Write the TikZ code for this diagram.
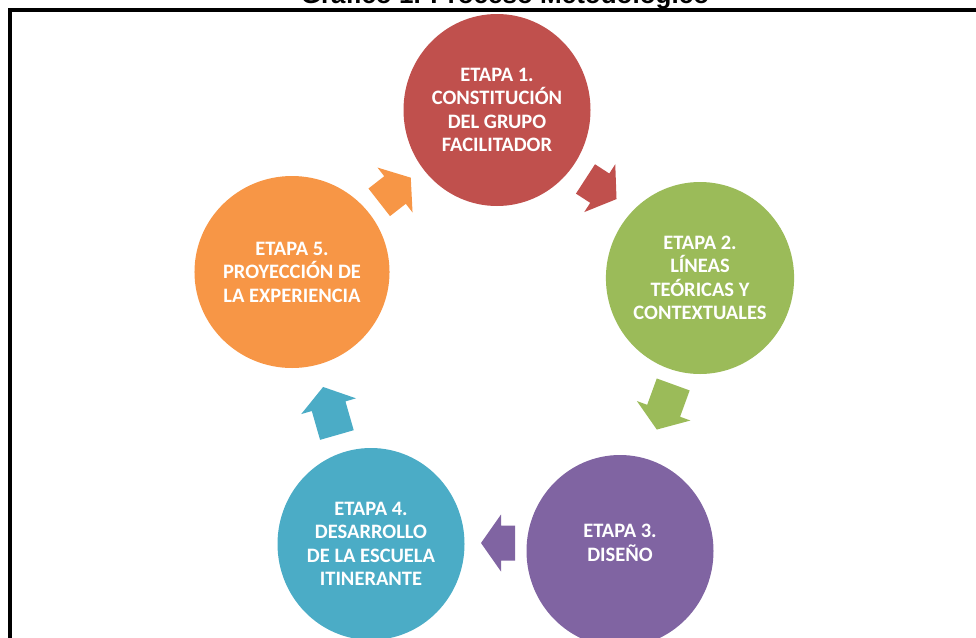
\documentclass[tikz,border=0pt]{standalone}
\usepackage{fontspec}
\setmainfont{Carlito}
\newfontfamily\titlefont{Liberation Sans}
\usepackage{tikz}
\usetikzlibrary{shapes.geometric}

\definecolor{stageone}{HTML}{C0504D}
\definecolor{stagetwo}{HTML}{9BBB59}
\definecolor{stagethree}{HTML}{8064A2}
\definecolor{stagefour}{HTML}{4BACC6}
\definecolor{stagefive}{HTML}{F79646}

\tikzset{
	pics/turn/.style={code={
		\fill (-#1/2,-17.5) -- (#1/2-20,-17.5) -- (#1/2-20,-28.5) -- (#1/2,0)
			-- (#1/2-20,28.5) -- (#1/2-20,17.5) -- (-#1/2,17.5) -- cycle;
	}}
}

\begin{document}
\begin{tikzpicture}[x=1pt, y=-1pt,
	stage/.style={ellipse, minimum width=187pt, minimum height=192pt, inner sep=0pt, align=center, text=white, font=\bfseries\fontsize{20.5}{23.5}\selectfont}]
	\useasboundingbox (0,0) rectangle (976,637);
	\node[anchor=base, font=\titlefont\bfseries\fontsize{26}{30}\selectfont] (title) at (505,3) {Gráfico 1. Proceso Metodológico};
	\draw[line width=4pt] (10,680) -- (10,10) -- (1000,10);

	\node[stage, fill=stageone] (s1) at (497,110) {ETAPA 1.\\CONSTITUCIÓN\\DEL GRUPO\\FACILITADOR};
	\node[stage, fill=stagetwo] (s2) at (700,278) {ETAPA 2.\\LÍNEAS\\TEÓRICAS Y\\CONTEXTUALES};
	\node[stage, fill=stagethree] (s3) at (620,551) {};
	\node[white, align=center, font=\bfseries\fontsize{20.5}{23.5}\selectfont] (t3) at (620,543) {ETAPA 3.\\DISEÑO};
	\node[stage, fill=stagefour] (s4) at (371,544) {ETAPA 4.\\DESARROLLO\\DE LA ESCUELA\\ITINERANTE};
	\node[stage, fill=stagefive] (s5) at (292,272) {ETAPA 5.\\PROYECCIÓN DE\\LA EXPERIENCIA};

	% arrows between the stages
	\pic[fill=stageone, rotate=-33] (a12) at (601,189) {turn=37};
	\pic[fill=stagetwo, rotate=-110] (a23) at (665,407) {turn=48};
	\pic[fill=stagethree, rotate=180] (a34) at (498,543) {turn=34};
	\pic[fill=stagefour, rotate=106] (a45) at (330,411) {turn=50};
	\pic[fill=stagefive, rotate=38] (a51) at (395,190) {turn=40};
\end{tikzpicture}
\end{document}
